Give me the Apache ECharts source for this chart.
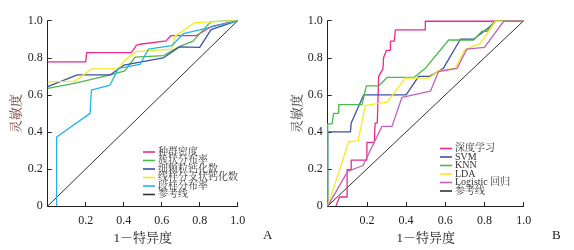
<!DOCTYPE html>
<html><head><meta charset="utf-8">
<script src="https://cdn.jsdelivr.net/npm/echarts@6/dist/echarts.min.js"></script>
<style>html,body{margin:0;padding:0;background:#fff}#c{width:574px;height:250px}</style>
</head><body><div id="c"></div>
<script>
// Panel A data: [1-specificity, sensitivity]
const namesA = ['种群密度','簇状分布率','细颗粒钙化数','线样分支状钙化数','段样分布率','参考线'];
const popDensity = [[0,0.778],[0.20,0.778],[0.205,0.828],[0.44,0.828],[0.468,0.868],[0.486,0.873],[0.623,0.891],[0.647,0.919],[0.78,0.919],[0.863,0.969],[1,1]];
const clusterRate = [[0,0.635],[0.152,0.665],[0.33,0.708],[0.406,0.729],[0.46,0.804],[0.61,0.812],[0.696,0.862],[0.765,0.89],[0.84,0.975],[0.863,0.995],[1,1]];
const fineCalc = [[0,0.644],[0.156,0.708],[0.33,0.708],[0.40,0.76],[0.608,0.799],[0.693,0.859],[0.80,0.856],[0.86,0.952],[1,1]];
const linearCalc = [[0,0.67],[0.144,0.674],[0.23,0.74],[0.37,0.74],[0.406,0.786],[0.464,0.833],[0.652,0.847],[0.67,0.917],[0.775,0.99],[1,1]];
const segmentRate = [[0.047,0],[0.047,0.373],[0.223,0.5],[0.23,0.625],[0.328,0.653],[0.372,0.743],[0.486,0.764],[0.53,0.847],[0.652,0.865],[0.714,0.93],[0.80,0.95],[1,1]];
const refLine = [[0,0],[1,1]];
// Panel B data
const namesB = ['深度学习','SVM','KNN','LDA','Logistic 回归','参考线'];
const deepLearning = [[0.042,0],[0.06,0.049],[0.099,0.049],[0.099,0.196],[0.12,0.196],[0.12,0.248],[0.20,0.248],[0.20,0.344],[0.238,0.344],[0.242,0.448],[0.253,0.448],[0.26,0.70],[0.282,0.74],[0.285,0.80],[0.30,0.84],[0.32,0.84],[0.32,0.89],[0.34,0.89],[0.345,0.95],[0.498,0.95],[0.498,0.997],[1,0.997]];
const svm = [[0,0],[0,0.4],[0.116,0.4],[0.12,0.448],[0.184,0.60],[0.40,0.60],[0.464,0.70],[0.52,0.70],[0.59,0.743],[0.677,0.90],[0.745,0.90],[0.83,0.97],[0.855,0.997],[1,0.997]];
const knn = [[0,0],[0,0.444],[0.022,0.444],[0.03,0.5],[0.056,0.5],[0.056,0.547],[0.175,0.547],[0.197,0.648],[0.26,0.648],[0.303,0.694],[0.44,0.694],[0.498,0.743],[0.617,0.896],[0.745,0.896],[0.787,0.943],[0.813,0.943],[0.855,0.997],[1,0.997]];
const lda = [[0,0],[0.107,0.347],[0.155,0.352],[0.192,0.543],[0.303,0.561],[0.396,0.69],[0.515,0.69],[0.566,0.73],[0.65,0.743],[0.70,0.844],[0.78,0.878],[0.855,0.997],[1,0.997]];
const logistic = [[0,0],[0.102,0.1875],[0.18,0.219],[0.277,0.43],[0.328,0.43],[0.379,0.587],[0.524,0.62],[0.566,0.726],[0.66,0.743],[0.71,0.847],[0.80,0.856],[0.898,0.997],[1,0.997]];
const xTicks = [0,0.2,0.4,0.6,0.8,1.0];

const colorsA = ['#ec2a8a','#4cb848','#3f51a3','#f7ec1a','#23b4ec','#333333'];
const colorsB = ['#ec2a8a','#3f51a3','#4cb848','#f7ec1a','#bf62c0','#333333'];
const FONT = '"Liberation Serif","Noto Serif CJK SC","Noto Sans CJK SC",serif';

function xAx(gi){return {type:'value',gridIndex:gi,min:0,max:1,interval:0.2,
  name:'1－特异度',nameLocation:'middle',nameGap:17,
  nameTextStyle:{fontFamily:FONT,fontSize:13,color:'#222'},
  axisLine:{lineStyle:{color:'#222',width:1}},
  axisTick:{inside:true,length:4,lineStyle:{color:'#222'}},
  axisLabel:{fontFamily:FONT,fontSize:12,color:'#222',margin:9,
    formatter:v=>v===0?'':v.toFixed(1)},
  splitLine:{show:false}};}
function yAx(gi,gap,nameColor){return {type:'value',gridIndex:gi,min:0,max:1,interval:0.2,
  name:'灵敏度',nameLocation:'middle',nameGap:gap,
  nameTextStyle:{fontFamily:FONT,fontSize:13,color:nameColor},
  axisLine:{show:true,lineStyle:{color:'#222',width:1}},
  axisTick:{show:true,inside:true,length:4,lineStyle:{color:'#222'}},
  axisLabel:{fontFamily:FONT,fontSize:12,color:'#222',margin:5,
    formatter:v=>v===0?'0':v.toFixed(1)},
  splitLine:{show:false}};}

function ser(name,data,color,gi,w){return {type:'line',name:name,data:data,xAxisIndex:gi,yAxisIndex:gi,
  symbol:'none',smooth:false,lineStyle:{color:color,width:w||1.3},itemStyle:{color:color},animation:false,z:name==='参考线'?1:2};}

const seriesA=[popDensity,clusterRate,fineCalc,linearCalc,segmentRate,refLine];
const seriesB=[deepLearning,svm,knn,lda,logistic,refLine];
const series=[];
seriesA.forEach((d,i)=>series.push(ser(namesA[i],d,colorsA[i],0,i===5?1:1.3)));
seriesB.forEach((d,i)=>series.push(ser(namesB[i],d,colorsB[i],1,i===5?1:1.3)));

function legendData(names,colors){return names.map((n,i)=>({name:n,icon:'rect',itemStyle:{color:colors[i]}}));}
const legendBase={orient:'vertical',itemWidth:12,itemHeight:1.6,itemGap:-1.5,
  textStyle:{fontFamily:FONT,fontSize:10,color:'#333',lineHeight:8.8,padding:[0,0,0,-2]},padding:0,selectedMode:false};

const chart=echarts.init(document.getElementById('c'),null,{renderer:'canvas'});
chart.setOption({
  animation:false,
  backgroundColor:'#fff',
  grid:[{left:47.7,top:20.7,width:190,height:192},{left:327.7,top:20.7,width:196,height:192}],
  xAxis:[xAx(0),xAx(1)],
  yAxis:[yAx(0,25,'#7a3b33'),yAx(1,23,'#444')],
  legend:[Object.assign({},legendBase,{left:143,top:147,data:legendData(namesA,colorsA)}),
          Object.assign({},legendBase,{left:440,top:143.5,data:legendData(namesB,colorsB)})],
  title:[{text:'A',left:263,top:229,textStyle:{fontFamily:FONT,fontSize:13,fontWeight:'normal',color:'#222'},padding:0},
         {text:'B',left:552,top:229,textStyle:{fontFamily:FONT,fontSize:13,fontWeight:'normal',color:'#222'},padding:0}],
  series:series
});
</script></body></html>
